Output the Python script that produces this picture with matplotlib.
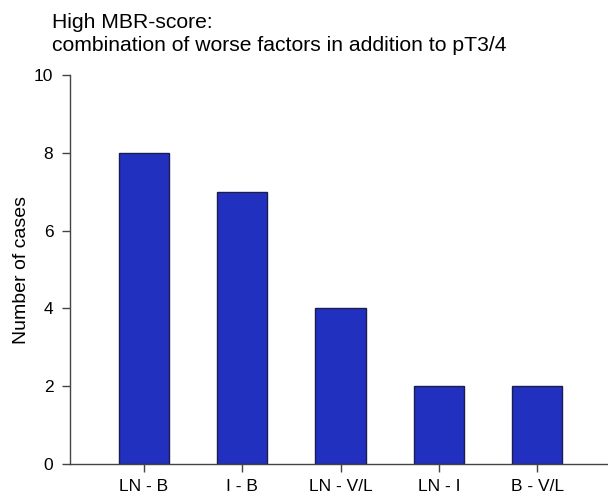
import matplotlib.pyplot as plt

# combinations of worse factors and their case counts
combos = ['LN - B', 'I - B', 'LN - V/L', 'LN - I', 'B - V/L']
cases = [8, 7, 4, 2, 2]
yticks = [0, 2, 4, 6, 8, 10]

plt.rcParams['font.family'] = ['Liberation Sans', 'DejaVu Sans']

fig = plt.figure(figsize=(6.08, 4.93), dpi=100)
ax = fig.add_axes([0.1151, 0.0588, 0.883, 0.789])

x = range(len(combos))
ax.bar(x, cases, width=0.51, color='#2130be', edgecolor='#1c1c50', linewidth=1.0)

ax.set_xlim(-0.753, 4.71)
ax.set_ylim(0, 10)
ax.set_xticks(list(x))
ax.set_xticklabels(combos, fontsize=12.5)
ax.set_yticks(yticks)
ax.set_yticklabels([str(v) for v in yticks], fontsize=12.5)
ax.set_ylabel('Number of cases', fontsize=14)
ax.yaxis.set_label_coords(-0.075, 0.5)

for side in ['top', 'right']:
    ax.spines[side].set_visible(False)
for side in ['left', 'bottom']:
    ax.spines[side].set_color('#444444')
    ax.spines[side].set_linewidth(1.0)
ax.tick_params(axis='both', direction='out', length=6, color='#444444', width=1.0)
ax.tick_params(axis='y', pad=6)
ax.tick_params(axis='x', pad=5)

fig.text(0.0855, 0.955, 'High MBR-score:', fontsize=15.2, va='center')
fig.text(0.0855, 0.907, 'combination of worse factors in addition to pT3/4', fontsize=15.2, va='center')

fig.savefig('out.png', dpi=100)
